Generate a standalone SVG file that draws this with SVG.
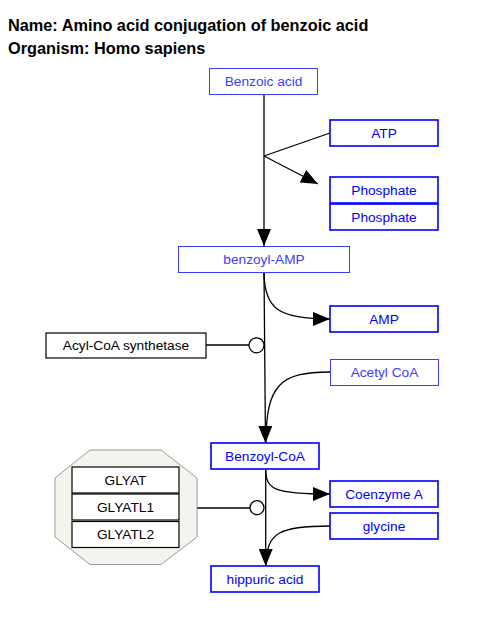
<svg xmlns="http://www.w3.org/2000/svg" width="480" height="634" viewBox="0 0 480 634">
<defs>
<style>
.t{font-family:"Liberation Sans",Arial,sans-serif;font-size:13.7px;text-anchor:middle;dominant-baseline:central}
.title{font-family:"Liberation Sans",Arial,sans-serif;font-size:16.3px;font-weight:bold;fill:#000}
.m1{fill:#fff;stroke:#3c3cff;stroke-width:1}
.m1t{fill:#3c3cff}
.m2{fill:#fff;stroke:#0000ff;stroke-width:1.6}
.m2t{fill:#0000ff}
.g{fill:#fff;stroke:#000;stroke-width:1.2}
.gt{fill:#000}
.e{fill:none;stroke:#000;stroke-width:1.3}
</style>
<marker id="ah" viewBox="0 0 17 14" refX="17" refY="7" markerWidth="17" markerHeight="14" markerUnits="userSpaceOnUse" orient="auto">
<path d="M0,0 L17,7 L0,14 Z" fill="#000"/>
</marker>
</defs>
<rect width="480" height="634" fill="#fff"/>
<text class="title" x="8" y="31">Name: Amino acid conjugation of benzoic acid</text>
<text class="title" x="8" y="54">Organism: Homo sapiens</text>

<g id="connectors">
<line class="e" x1="264" y1="94" x2="264" y2="246" marker-end="url(#ah)"/>
<line class="e" x1="330" y1="133" x2="264" y2="156"/>
<line class="e" x1="264" y1="156" x2="318" y2="184" marker-end="url(#ah)"/>
<line class="e" x1="264" y1="272" x2="265.5" y2="443" marker-end="url(#ah)"/>
<path class="e" d="M264,272 C264,310 280,319 330,319" marker-end="url(#ah)"/>
<path class="e" d="M330,372 C280,372 266,385 266,443"/>
<line class="e" x1="206" y1="345" x2="249" y2="345"/>
<circle cx="256.5" cy="345.3" r="7.5" fill="#fff" stroke="#000" stroke-width="1.3"/>
<line class="e" x1="265.7" y1="469" x2="265.7" y2="566" marker-end="url(#ah)"/>
<path class="e" d="M265.7,469 C265.7,490 275,494 330,494" marker-end="url(#ah)"/>
<path class="e" d="M330,526 C280,526 266,532 266,566"/>
<line class="e" x1="197" y1="508" x2="250" y2="508"/>
<circle cx="257" cy="507.7" r="7" fill="#fff" stroke="#000" stroke-width="1.3"/>
</g>

<g id="benzoic-acid"><rect class="m1" x="209.5" y="68.5" width="108" height="26"/><text class="t m1t" x="263.5" y="81.5">Benzoic acid</text></g>
<g id="atp"><rect class="m2" x="330" y="120" width="108" height="26"/><text class="t m2t" x="384" y="133">ATP</text></g>
<g id="phosphate1"><rect class="m2" x="330" y="177" width="108" height="26"/><text class="t m2t" x="384" y="190">Phosphate</text></g>
<g id="phosphate2"><rect class="m2" x="330" y="204" width="108" height="26"/><text class="t m2t" x="384" y="217">Phosphate</text></g>
<g id="benzoyl-amp"><rect class="m1" x="178.5" y="246.5" width="171" height="26"/><text class="t m1t" x="264" y="259.5">benzoyl-AMP</text></g>
<g id="amp"><rect class="m2" x="330" y="306" width="108" height="26"/><text class="t m2t" x="384" y="319">AMP</text></g>
<g id="acyl-coa-synthetase"><rect class="g" x="46" y="333" width="160" height="25"/><text class="t gt" x="126" y="345.5">Acyl-CoA synthetase</text></g>
<g id="acetyl-coa"><rect class="m1" x="330.5" y="359.5" width="108" height="26"/><text class="t m1t" x="384.5" y="372.5">Acetyl CoA</text></g>
<g id="benzoyl-coa"><rect class="m2" x="211" y="443" width="108" height="26"/><text class="t m2t" x="265" y="456">Benzoyl-CoA</text></g>
<g id="coenzyme-a"><rect class="m2" x="330" y="481" width="108" height="26"/><text class="t m2t" x="384" y="494">Coenzyme A</text></g>
<g id="glycine"><rect class="m2" x="330" y="513" width="108" height="26"/><text class="t m2t" x="384" y="526">glycine</text></g>
<g id="hippuric-acid"><rect class="m2" x="211" y="566" width="108" height="26"/><text class="t m2t" x="265" y="579">hippuric acid</text></g>

<g id="glyat-complex">
<polygon points="90,450 161,450 197,478 197,537 161,564.5 90,564.5 55,537 55,478" fill="#f4f4ee" stroke="#999" stroke-width="1"/>
<g id="glyat"><rect class="g" x="72" y="467" width="107" height="26" stroke-width="1.8"/><text class="t gt" x="125.5" y="480">GLYAT</text></g>
<g id="glyatl1"><rect class="g" x="72" y="494" width="107" height="26" stroke-width="1.8"/><text class="t gt" x="125.5" y="507">GLYATL1</text></g>
<g id="glyatl2"><rect class="g" x="72" y="521.5" width="107" height="26" stroke-width="1.8"/><text class="t gt" x="125.5" y="534.5">GLYATL2</text></g>
</g>
</svg>
